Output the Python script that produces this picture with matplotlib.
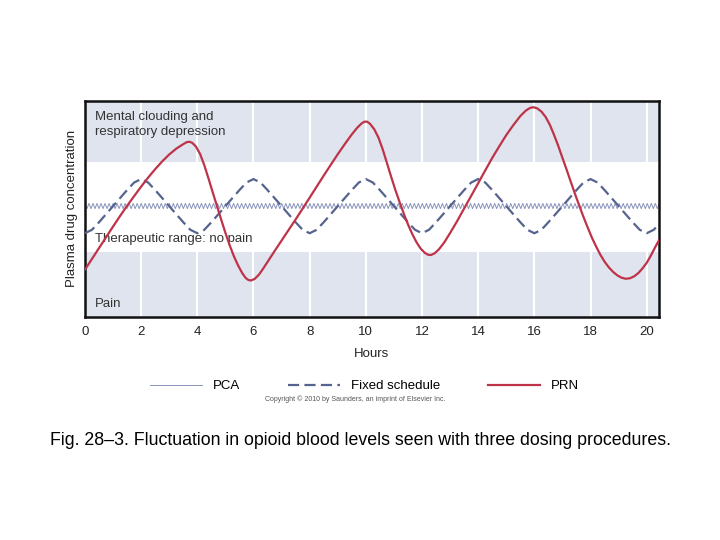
import numpy as np
import matplotlib
matplotlib.use("Agg")
import matplotlib.pyplot as plt

plt.rcParams["font.family"] = ["Liberation Sans", "DejaVu Sans"]

# band limits (plasma level, 0-100 scale)
band_low = 30.0
band_high = 71.5

# PRN
prn_hours = [0.0, 0.25, 0.5, 0.75, 1.0, 1.25, 1.5, 1.75, 2.0, 2.25, 2.5, 2.75, 3.0, 3.25, 3.5,
             3.62, 3.72, 3.82, 3.95, 4.1, 4.25, 4.4, 4.55, 4.7, 4.85, 5.0, 5.15, 5.3, 5.45, 5.6,
             5.72, 5.82, 5.92, 6.05, 6.2, 6.35, 6.5, 6.75, 7.0, 7.25, 7.5, 7.75, 8.0, 8.25, 8.5,
             8.75, 9.0, 9.25, 9.5, 9.7, 9.85, 9.95, 10.05, 10.15, 10.3, 10.45, 10.6, 10.75, 10.9,
             11.05, 11.2, 11.35, 11.5, 11.65, 11.8, 11.95, 12.1, 12.22, 12.32, 12.45, 12.6, 12.8,
             13.0, 13.25, 13.5, 13.75, 14.0, 14.25, 14.5, 14.75, 15.0, 15.25, 15.5, 15.7, 15.85,
             15.97, 16.1, 16.25, 16.4, 16.55, 16.7, 16.85, 17.0, 17.15, 17.3, 17.45, 17.6, 17.75,
             17.9, 18.05, 18.2, 18.35, 18.5, 18.65, 18.8, 18.95, 19.1, 19.25, 19.4, 19.55, 19.7,
             19.85, 20.0, 20.15, 20.3, 20.45]
prn_level = [21.8, 26.8, 31.8, 36.8, 41.8, 46.7, 51.4, 55.9, 60.3, 64.5, 68.4, 72.0, 75.2, 77.9, 80.0,
             80.9, 81.1, 80.6, 78.9, 75.4, 70.2, 64.0, 57.6, 51.3, 45.0, 38.9, 33.2, 28.1, 23.8, 20.2,
             18.0, 17.0, 16.8, 17.6, 19.6, 22.4, 25.4, 30.4, 35.3, 40.2, 45.1, 50.1, 55.2, 60.3, 65.4,
             70.4, 75.3, 80.0, 84.5, 87.7, 89.6, 90.4, 90.4, 89.4, 86.9, 83.0, 77.6, 71.3, 64.9,
             58.8, 53.2, 47.8, 42.8, 38.4, 34.6, 31.6, 29.6, 28.7, 28.6, 29.4, 31.2, 34.6,
             38.8, 44.3, 50.2, 56.0, 61.9, 67.8, 73.6, 79.0, 84.2, 88.8, 93.0, 95.6, 96.8,
             97.1, 96.6, 95.1, 92.6, 89.0, 84.3, 79.2, 73.6, 68.1, 62.4, 56.8, 51.4, 46.2,
             41.3, 36.6, 32.5, 28.7, 25.5, 22.9, 20.8, 19.2, 18.1, 17.6, 17.8, 18.7, 20.2,
             22.4, 25.0, 28.4, 32.2, 35.8]

# Fixed schedule, every quarter hour
fixed_hours = np.arange(0, 20.51, 0.25)
fixed_level = [38.7, 40.3, 43.8, 47.5, 51.25, 55.0, 58.7, 62.2, 63.8, 62.2, 58.7, 55.0, 51.25, 47.5, 43.8, 40.3,
               38.7, 40.3, 43.8, 47.5, 51.25, 55.0, 58.7, 62.2, 63.8, 62.2, 58.7, 55.0, 51.25, 47.5, 43.8, 40.3,
               38.7, 40.3, 43.8, 47.5, 51.25, 55.0, 58.7, 62.2, 63.8, 62.2, 58.7, 55.0, 51.25, 47.5, 43.8, 40.3,
               38.7, 40.3, 43.8, 47.5, 51.25, 55.0, 58.7, 62.2, 63.8, 62.2, 58.7, 55.0, 51.25, 47.5, 43.8, 40.3,
               38.7, 40.3, 43.8, 47.5, 51.25, 55.0, 58.7, 62.2, 63.8, 62.2, 58.7, 55.0, 51.25, 47.5, 43.8, 40.3,
               38.7, 40.3, 43.8]

# PCA: small ripple around a steady level
pca_high = 52.5
pca_low = 50.1
pca_dose_every = 0.143  # hours
pca_hours = np.arange(0, 20.6, pca_dose_every / 2)
pca_level = [pca_high if i % 2 == 0 else pca_low for i in range(len(pca_hours))]

hour_ticks = [0, 2, 4, 6, 8, 10, 12, 14, 16, 18, 20]

fig = plt.figure(figsize=(7.2, 5.4), dpi=100)
ax = fig.add_axes([0.118, 0.4135, 0.797, 0.3995])

shade = "#dfe4ef"
ax.axhspan(0, band_low, color=shade, lw=0, zorder=0)
ax.axhspan(band_high, 100, color=shade, lw=0, zorder=0)
for h in hour_ticks:
    ax.axvline(h, color="white", lw=1.5, zorder=1)

ax.plot(pca_hours, pca_level, color="#8a94bb", lw=0.7, zorder=2, label="PCA")
ax.plot(fixed_hours, fixed_level, color="#55638e", lw=1.6, dashes=(5, 2.4), zorder=3,
        label="Fixed schedule")
ax.plot(prn_hours, prn_level, color="#bf3349", lw=1.6, zorder=4, label="PRN")

ax.set_xlim(0, 20.43)
ax.set_ylim(0, 100)
ax.set_xticks(hour_ticks)
ax.set_yticks([])
ax.tick_params(axis="x", length=0, pad=7, labelsize=9.5, colors="#222222")
for s in ax.spines.values():
    s.set_linewidth(1.8)
    s.set_color("#111111")
ax.set_xlabel("Hours", fontsize=9.5, color="#222222", labelpad=7)
ax.set_ylabel("Plasma drug concentration", fontsize=9.5, color="#222222", labelpad=5)

txt = dict(transform=ax.transAxes, fontsize=9.5, color="#333333", ha="left")
ax.text(0.0174, 0.955, "Mental clouding and\nrespiratory depression", va="top",
        linespacing=1.4, **txt)
ax.text(0.0174, 0.36, "Therapeutic range: no pain", va="center", **txt)
ax.text(0.0174, 0.058, "Pain", va="center", **txt)

fig.legend(loc="center", bbox_to_anchor=(0.506, 0.285), ncol=3, frameon=False,
           fontsize=9.5, handlelength=4.0, handletextpad=0.8, columnspacing=3.6)

fig.text(0.493, 0.261, "Copyright \u00a9 2010 by Saunders, an imprint of Elsevier Inc.",
         fontsize=5, color="#555555", ha="center", va="center")

fig.text(0.5, 0.185, "Fig. 28\u20133. Fluctuation in opioid blood levels seen with three dosing procedures.",
         fontsize=12.8, color="black", ha="center", va="center")

fig.savefig("out.png", dpi=100)
